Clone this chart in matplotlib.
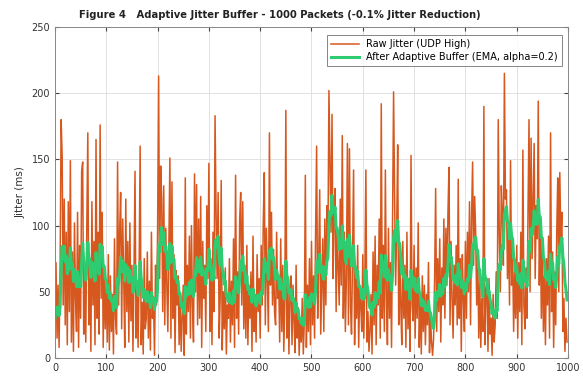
import numpy as np
import pandas as pd
import matplotlib
matplotlib.use("Agg")
import matplotlib.pyplot as plt

# raw jitter per packet (ms), sampled every 2 packets
packets = np.arange(0, 1000, 2)
raw_jitter = [
    30, 72, 15, 55, 8, 68, 180, 152, 40, 120,
    25, 95, 10, 118, 35, 149, 12, 80, 5, 102,
    45, 20, 110, 8, 85, 30, 141, 148, 18, 60,
    12, 98, 170, 25, 75, 5, 118, 40, 88, 10,
    165, 30, 95, 18, 176, 45, 110, 8, 70, 22,
    55, 12, 78, 6, 62, 20, 48, 3, 90, 30,
    18, 148, 40, 95, 125, 22, 105, 60, 8, 120,
    35, 88, 12, 102, 28, 70, 5, 62, 141, 15,
    50, 8, 65, 160, 10, 42, 3, 75, 22, 30,
    80, 15, 58, 6, 95, 30, 45, 2, 70, 40,
    95, 213, 60, 145, 120, 35, 130, 25, 98, 55,
    20, 85, 151, 15, 133, 30, 78, 4, 66, 40,
    62, 10, 48, 5, 30, 55, 2, 136, 18, 70,
    35, 92, 15, 100, 40, 12, 139, 50, 131, 25,
    105, 30, 122, 8, 88, 45, 70, 20, 115, 60,
    147, 20, 75, 10, 95, 35, 183, 110, 60, 125,
    15, 45, 134, 6, 50, 22, 68, 3, 40, 30,
    75, 12, 58, 25, 90, 8, 138, 30, 65, 18,
    105, 125, 40, 118, 22, 70, 15, 85, 10, 55,
    30, 65, 5, 92, 20, 48, 12, 78, 35, 60,
    15, 85, 40, 102, 140, 25, 98, 60, 20, 170,
    55, 110, 40, 82, 35, 25, 95, 45, 62, 12,
    90, 20, 70, 5, 42, 187, 15, 58, 3, 48,
    62, 10, 55, 28, 4, 70, 15, 38, 2, 30,
    12, 45, 3, 28, 138, 8, 55, 20, 75, 10,
    88, 25, 62, 15, 95, 160, 30, 72, 127, 18,
    55, 90, 20, 105, 40, 115, 85, 202, 150, 95,
    184, 60, 110, 128, 35, 98, 70, 40, 120, 55,
    168, 30, 95, 20, 60, 162, 25, 158, 40, 18,
    75, 142, 10, 62, 30, 85, 8, 55, 40, 20,
    78, 15, 60, 142, 12, 35, 5, 20, 48, 3,
    80, 25, 92, 10, 70, 40, 105, 15, 192, 30,
    85, 20, 142, 45, 10, 98, 30, 72, 8, 110,
    201, 120, 55, 95, 161, 25, 78, 40, 10, 88,
    30, 70, 8, 95, 22, 60, 5, 153, 40, 28,
    85, 15, 68, 30, 102, 8, 45, 3, 62, 20,
    55, 10, 48, 25, 72, 4, 30, 12, 2, 15,
    60, 128, 20, 75, 35, 90, 12, 68, 40, 105,
    30, 98, 55, 110, 144, 25, 88, 45, 15, 70,
    40, 85, 25, 135, 30, 75, 5, 78, 45, 20,
    88, 30, 95, 50, 118, 25, 105, 148, 70, 122,
    95, 40, 82, 15, 60, 8, 45, 20, 190, 10,
    50, 58, 5, 60, 18, 30, 2, 48, 12, 25,
    65, 30, 180, 95, 50, 130, 110, 70, 215, 120,
    127, 60, 98, 40, 149, 55, 80, 20, 65, 30,
    85, 15, 72, 35, 95, 10, 157, 40, 22, 68,
    30, 110, 180, 50, 166, 75, 120, 162, 60, 115,
    90, 194, 55, 105, 30, 88, 20, 62, 10, 75,
    40, 92, 15, 170, 35, 80, 8, 65, 25, 95,
    136, 50, 140, 90, 110, 20, 45, 5, 30, 12,
]
alpha = 0.2

# adaptive buffer output: exponential moving average of the raw jitter
smoothed = pd.Series(raw_jitter).ewm(alpha=alpha, adjust=False).mean().to_numpy()

fig = plt.figure(figsize=(5.83, 3.80), dpi=100)
ax = fig.add_axes([0.0943, 0.058, 0.880, 0.871])

ax.plot(packets, raw_jitter, color="#D6581F", linewidth=1.1, label="Raw Jitter (UDP High)")
ax.plot(packets, smoothed, color="#2ECC71", linewidth=2.2,
        label="After Adaptive Buffer (EMA, alpha=0.2)")

ax.set_xlim(0, 1000)
ax.set_ylim(0, 250)
ax.set_xticks(np.arange(0, 1001, 100))
ax.set_yticks(np.arange(0, 251, 50))
ax.tick_params(direction="in", top=True, right=True, labelsize=7, length=3,
               color="#444444", labelcolor="#333333")
ax.grid(True, color="#dddddd", linewidth=0.6)
ax.set_axisbelow(True)
for s in ax.spines.values():
    s.set_color("#888888")
    s.set_linewidth(0.7)

ax.set_ylabel("Jitter (ms)", fontsize=7.5, color="#333333", labelpad=4)
fig.text(280 / 583, 1 - 15 / 380, "Figure 4   Adaptive Jitter Buffer - 1000 Packets (-0.1% Jitter Reduction)",
         ha="center", va="center", fontsize=7.2, fontweight="bold", color="#222222")

leg = ax.legend(loc="upper right", bbox_to_anchor=(0.988, 0.975), fontsize=7,
                handlelength=2.8, frameon=True, fancybox=False, borderaxespad=0,
                labelspacing=0.3, borderpad=0.4)
leg.get_frame().set_edgecolor("#666666")
leg.get_frame().set_linewidth(0.7)

fig.savefig("out.png", dpi=100)
